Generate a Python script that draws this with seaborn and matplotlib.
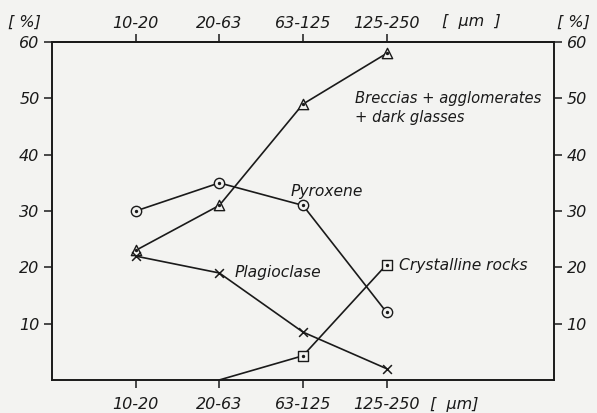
import matplotlib
matplotlib.use("Agg")
import matplotlib.pyplot as plt
import seaborn as sns
import pandas as pd

# grain size classes and percentages
classes = ["10-20", "20-63", "63-125", "125-250"]
pyroxene = [30, 35, 31, 12]
breccias = [23, 31, 49, 58]
plagioclase = [22, 19, 8.5, 2]
crystalline_classes = ["20-63", "63-125", "125-250"]
crystalline = [0, 4.3, 20.5]

pos = {c: i + 1 for i, c in enumerate(classes)}

sns.set_style("ticks")
plt.rcParams['font.family'] = ['DejaVu Sans']
plt.rcParams['font.style'] = 'italic'

ink = "#1a1a1a"
paper = "#f3f3f1"

fig, ax = plt.subplots(figsize=(5.97, 4.13), dpi=100)
fig.patch.set_facecolor(paper)
ax.set_facecolor(paper)
fig.subplots_adjust(left=0.087, right=0.928, top=0.898, bottom=0.08)

series = [
    ("Pyroxene", classes, pyroxene, "o"),
    ("Breccias", classes, breccias, "^"),
    ("Plagioclase", classes, plagioclase, "x"),
    ("Crystalline", crystalline_classes, crystalline, "s"),
]

for name, cls, vals, mk in series:
    df = pd.DataFrame({"x": [pos[c] for c in cls], "y": vals})
    sns.lineplot(data=df, x="x", y="y", ax=ax, color=ink, lw=1.2, zorder=2)
    pts = df if name != "Crystalline" else df.iloc[1:]
    if mk == "x":
        ax.scatter(pts["x"], pts["y"], marker="x", s=40, color=ink, lw=1.1, zorder=3)
    else:
        ax.scatter(pts["x"], pts["y"], marker=mk, s=55, facecolor=paper,
                   edgecolor=ink, lw=1.0, zorder=3)
        ax.scatter(pts["x"], pts["y"], marker=".", s=8, color=ink, zorder=4)

ax.set_xlim(0, 6)
ax.set_ylim(0, 60)
ax.set_xticks(range(1, 5))
ax.set_xticklabels(classes)
ax.set_yticks(range(10, 61, 10))
ax.set_xlabel("")
ax.set_ylabel("")

for s in ax.spines.values():
    s.set_visible(True)
    s.set_color(ink)
    s.set_linewidth(1.4)

ax.tick_params(axis="both", which="both", direction="out", length=6, width=1.1,
               colors=ink, labelsize=11.5)
ax.tick_params(axis="y", left=True, right=True, labelleft=True, labelright=True, pad=3)
ax.tick_params(axis="x", bottom=True, top=False, labelbottom=True, labeltop=False, pad=6)

top = ax.secondary_xaxis("top")
top.set_xticks(range(1, 5))
top.set_xticklabels(classes)
top.tick_params(direction="out", length=6, width=1.1, colors=ink, labelsize=11.5, pad=2)
top.spines["top"].set_linewidth(1.4)
top.spines["top"].set_color(ink)

for lab in ax.get_xticklabels() + ax.get_yticklabels() + top.get_xticklabels():
    lab.set_fontstyle("italic")

# series labels
ax.text(3.62, 48.3, "Breccias + agglomerates\n+ dark glasses", fontsize=10.6,
        style="italic", va="center", ha="left", color=ink, linespacing=1.35)
ax.text(2.85, 33.4, "Pyroxene", fontsize=11.2, style="italic", va="center", color=ink)
ax.text(2.18, 19.0, "Plagioclase", fontsize=11.2, style="italic", va="center", color=ink)
ax.text(4.15, 20.4, "Crystalline rocks", fontsize=11.2, style="italic", va="center", color=ink)

# unit labels
fig.text(0.014, 0.947, "[ %]", fontsize=11.5, style="italic", va="center", color=ink)
fig.text(0.933, 0.947, "[ %]", fontsize=11.5, style="italic", va="center", color=ink)
fig.text(0.74, 0.947, "[  µm  ]", fontsize=11.5, style="italic", va="center", color=ink)
fig.text(0.72, 0.02, "[  µm]", fontsize=11.5, style="italic", va="center", color=ink)

fig.savefig("out.png", dpi=100, facecolor=paper)
